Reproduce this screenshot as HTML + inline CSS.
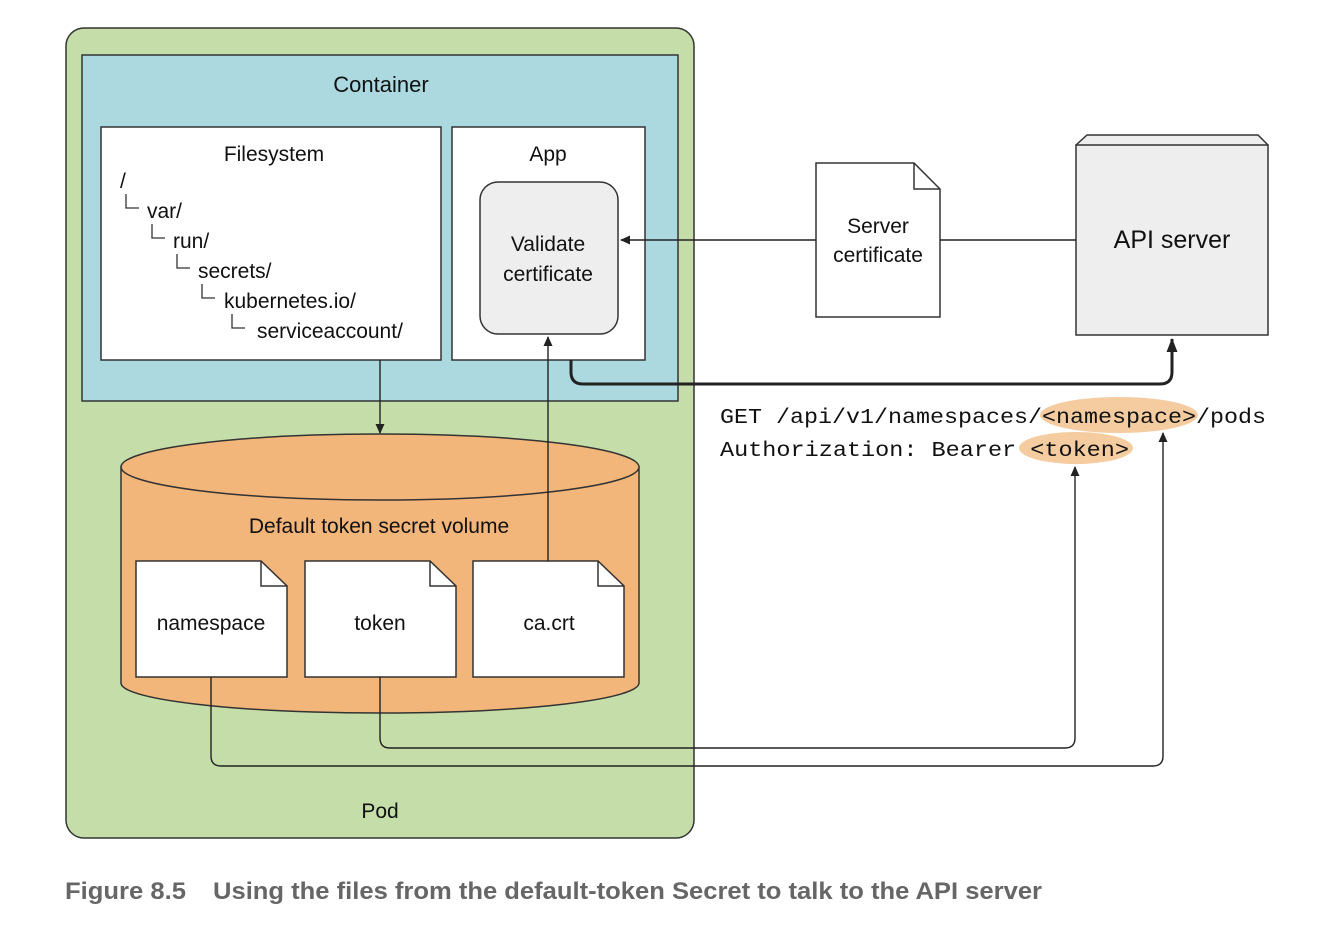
<!DOCTYPE html>
<html><head><meta charset="utf-8"><style>html,body{margin:0;padding:0;background:#fff}svg{display:block}</style></head>
<body>
<svg width="1326" height="928" viewBox="0 0 1326 928" xmlns="http://www.w3.org/2000/svg" font-family="Liberation Sans, Arial, sans-serif" fill="#111">
<defs>
<marker id="a" markerWidth="10" markerHeight="12" refX="9" refY="6" orient="auto" markerUnits="userSpaceOnUse"><path d="M0,1.5 L10,6 L0,10.5 Z" fill="#222"/></marker>
<marker id="b" markerWidth="14" markerHeight="14" refX="13" refY="7" orient="auto" markerUnits="userSpaceOnUse"><path d="M0,1.5 L14,7 L0,12.5 Z" fill="#222"/></marker>
</defs>
<rect x="66" y="28" width="628" height="810" rx="18" fill="#c5dea9" stroke="#333" stroke-width="1.5"/>
<rect x="82" y="55" width="596" height="346" fill="#acd9df" stroke="#333" stroke-width="1.5"/>
<text x="381" y="92" font-size="22" text-anchor="middle">Container</text>
<rect x="101" y="127" width="340" height="233" fill="#fff" stroke="#333" stroke-width="1.5"/>
<text x="274" y="161" font-size="21" text-anchor="middle">Filesystem</text>
<g font-size="21" stroke="#333" stroke-width="1.3">
<text x="120" y="188" stroke="none">/</text>
<path d="M126,194 V208 H139" fill="none"/><text x="147" y="218" stroke="none">var/</text>
<path d="M152,224 V238 H165" fill="none"/><text x="173" y="248" stroke="none">run/</text>
<path d="M177,254 V268 H190" fill="none"/><text x="198" y="278" stroke="none">secrets/</text>
<path d="M202,284 V298 H215" fill="none"/><text x="224" y="308" stroke="none">kubernetes.io/</text>
<path d="M232,314 V328 H245" fill="none"/><text x="257" y="338" stroke="none">serviceaccount/</text>
</g>
<rect x="452" y="127" width="193" height="233" fill="#fff" stroke="#333" stroke-width="1.5"/>
<text x="548" y="161" font-size="21" text-anchor="middle">App</text>
<rect x="480" y="182" width="138" height="152" rx="18" fill="#eeeeee" stroke="#333" stroke-width="1.5"/>
<text x="548" y="251" font-size="21" text-anchor="middle">Validate</text>
<text x="548" y="281" font-size="21" text-anchor="middle">certificate</text>
<path d="M121,467 V683 A259,30 0 0 0 639,683 V467" fill="#f2b57a" stroke="#333" stroke-width="1.5"/>
<ellipse cx="380" cy="467" rx="259" ry="33" fill="#f2b57a" stroke="#333" stroke-width="1.5"/>
<text x="379" y="533" font-size="21" text-anchor="middle">Default token secret volume</text>
<g fill="#fff" stroke="#333" stroke-width="1.5">
<path d="M136,561 H261 L287,586 V677 H136 Z"/><path d="M261,561 V586 H287" fill="none"/>
<path d="M305,561 H430 L456,586 V677 H305 Z"/><path d="M430,561 V586 H456" fill="none"/>
<path d="M473,561 H598 L624,586 V677 H473 Z"/><path d="M598,561 V586 H624" fill="none"/>
</g>
<text x="211" y="630" font-size="21" text-anchor="middle">namespace</text>
<text x="380" y="630" font-size="21" text-anchor="middle">token</text>
<text x="549" y="630" font-size="21" text-anchor="middle">ca.crt</text>
<text x="380" y="818" font-size="21" text-anchor="middle">Pod</text>
<path d="M816,163 H914 L940,189 V317 H816 Z" fill="#fff" stroke="#333" stroke-width="1.5"/>
<path d="M914,163 V189 H940" fill="none" stroke="#333" stroke-width="1.5"/>
<text x="878" y="233" font-size="21" text-anchor="middle">Server</text>
<text x="878" y="262" font-size="21" text-anchor="middle">certificate</text>
<path d="M1076,145 L1087,135 H1258 L1268,145" fill="#eee" stroke="#333" stroke-width="1.5"/>
<rect x="1076" y="145" width="192" height="190" fill="#eeeeee" stroke="#333" stroke-width="1.5"/>
<text x="1172" y="248" font-size="25" text-anchor="middle">API server</text>
<g fill="none" stroke="#222" stroke-width="1.4">
<path d="M816,240 H621" marker-end="url(#a)"/>
<path d="M940,240 H1076"/>
<path d="M380,360 V433" marker-end="url(#a)"/>
<path d="M548,561 V337" marker-end="url(#a)"/>
<path d="M380,677 V738 Q380,748 390,748 H1065 Q1075,748 1075,738 V467" marker-end="url(#a)"/>
<path d="M211,677 V756 Q211,766 221,766 H1153 Q1163,766 1163,756 V433" marker-end="url(#a)"/>
</g>
<path d="M571,360 V372 Q571,384 583,384 H1160 Q1172,384 1172,372 V339" fill="none" stroke="#222" stroke-width="3" marker-end="url(#b)"/>
<ellipse cx="1119" cy="415" rx="79" ry="18" fill="#f5cba0"/>
<ellipse cx="1076" cy="448" rx="57" ry="16" fill="#f5cba0"/>
<g font-family="Liberation Mono, monospace" font-size="21">
<text x="720" y="423" textLength="546" lengthAdjust="spacingAndGlyphs">GET /api/v1/namespaces/&lt;namespace&gt;/pods</text>
<text x="720" y="456" textLength="409" lengthAdjust="spacingAndGlyphs">Authorization: Bearer &lt;token&gt;</text>
</g>
<g font-size="24" font-weight="bold" fill="#666">
<text x="65" y="899" textLength="121" lengthAdjust="spacingAndGlyphs">Figure 8.5</text>
<text x="213" y="899" textLength="829" lengthAdjust="spacingAndGlyphs">Using the files from the default-token Secret to talk to the API server</text>
</g>
</svg>
</body></html>
